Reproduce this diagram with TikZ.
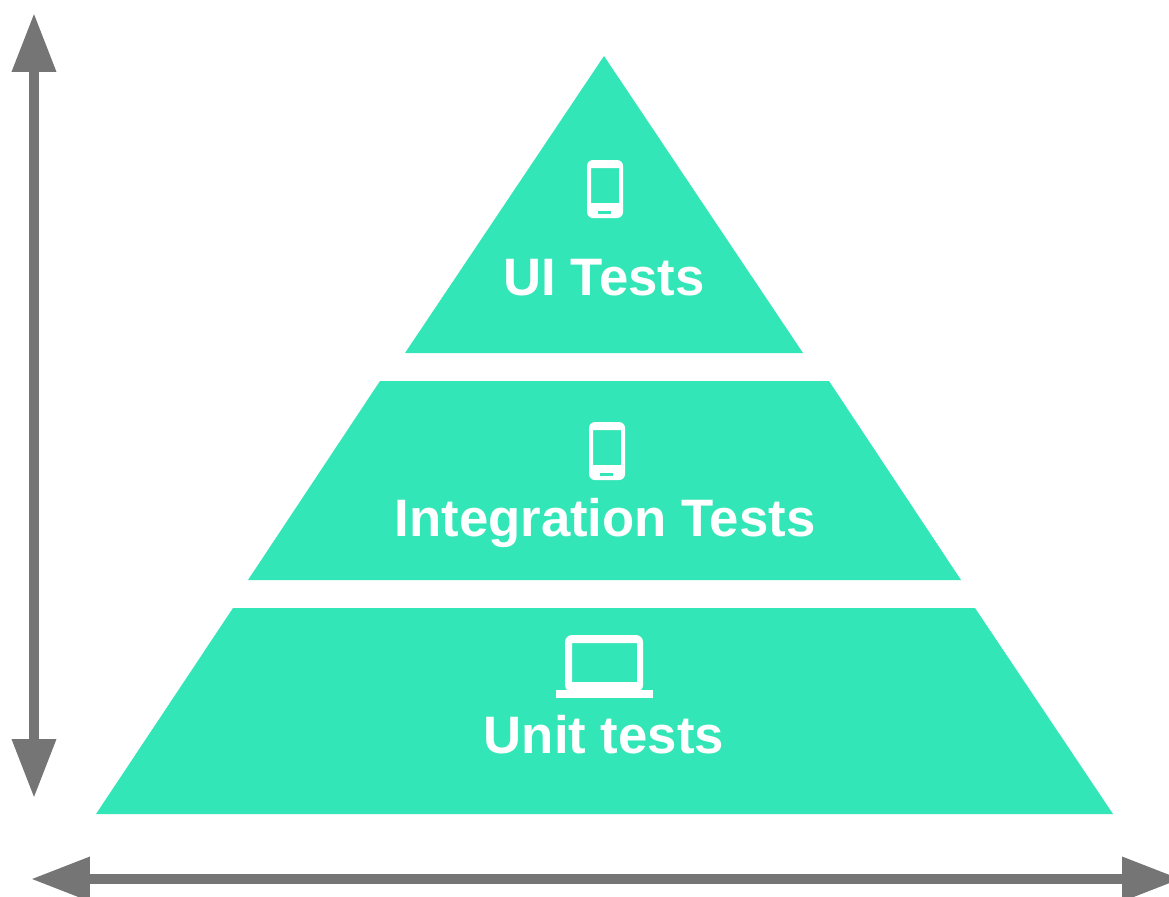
\documentclass[tikz,border=0pt]{standalone}
\usepackage{fontspec}
\setmainfont{Liberation Sans}
\usetikzlibrary{arrows.meta}
\definecolor{tealgreen}{HTML}{33E6B7}
\definecolor{axisgray}{HTML}{757575}
\tikzset{
    layer/.style={fill=tealgreen, draw=none},
    label/.style={text=white, font=\fontsize{30}{30}\selectfont\bfseries, inner sep=0, anchor=base},
    axis/.style={draw=axisgray, line width=0.2cm, {Triangle[length=1.18cm, width=0.84cm]}-{Triangle[length=1.18cm, width=0.84cm]}},
    phone/.pic={
        \fill[white, even odd rule, rounded corners=0.12cm]
            (-18, -29) rectangle (18, 29)
            [sharp corners] (-14, -21) rectangle (14, 14);
        \fill[tealgreen] (-7, 22) rectangle (6, 25);
    },
    laptop/.pic={
        \fill[white, even odd rule, rounded corners=0.14cm]
            (-39, 26) -- (-39, -31) -- (39, -31) -- (39, 26) -- cycle
            [sharp corners] (-32, -23) rectangle (33, 16);
        \fill[white] (-48, 24) rectangle (49, 32);
    }
}
\begin{document}
\begin{tikzpicture}[x=0.02cm, y=-0.02cm]
    \useasboundingbox (0, 0) rectangle (1169, 896);
    \fill[layer] (604, 56) -- (803, 353) -- (405, 353) -- cycle;
    \fill[layer] (380, 381) -- (829, 381) -- (961, 580) -- (248, 580) -- cycle;
    \fill[layer] (233, 608) -- (975, 608) -- (1113, 814) -- (96, 814) -- cycle;
    \pic at (605, 189) {phone};
    \pic at (607, 451) {phone};
    \pic at (604, 666) {laptop};
    \node[label] (uilabel) at (604, 295) {UI Tests};
    \node[label] (integrationlabel) at (605, 536) {Integration Tests};
    \node[label] (unitlabel) at (604, 753) {Unit tests};
    \coordinate (top) at (34, 13);
    \coordinate (bottom) at (34, 798);
    \coordinate (left) at (31, 879);
    \coordinate (right) at (1181, 879);
    \draw[axis] (top) -- (bottom);
    \draw[axis] (left) -- (right);
\end{tikzpicture}
\end{document}
